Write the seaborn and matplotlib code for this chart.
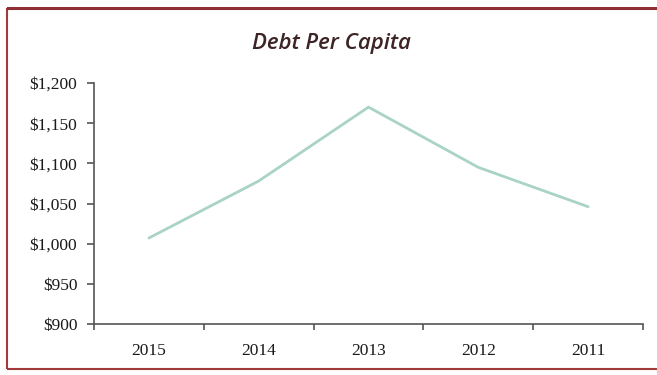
import matplotlib
matplotlib.use("Agg")
import matplotlib.pyplot as plt
import seaborn as sns
import pandas as pd
from matplotlib.patches import Rectangle
from matplotlib.ticker import FuncFormatter, FixedLocator

years = ["2015", "2014", "2013", "2012", "2011"]
debt = [1007, 1078, 1170, 1095, 1046]
y_ticks = [900, 950, 1000, 1050, 1100, 1150, 1200]

df = pd.DataFrame({"year": years, "debt": debt})

sns.set_style("white")
plt.rcParams["font.family"] = ["Liberation Serif", "DejaVu Serif"]

fig = plt.figure(figsize=(6.57, 3.75), dpi=100)
ax = fig.add_axes([94/657, 1-324/375, (643-94)/657, (324-83)/375])

sns.lineplot(data=df, x="year", y="debt", ax=ax, color="#a9d3c6", linewidth=2.0, sort=False)

ax.set_xlim(-0.5, len(years) - 0.5)
ax.set_ylim(900, 1200)
ax.set_yticks(y_ticks)
ax.yaxis.set_major_formatter(FuncFormatter(lambda v, p: f"${v:,.0f}"))
ax.xaxis.set_minor_locator(FixedLocator([i - 0.5 for i in range(len(years) + 1)]))
ax.tick_params(axis="x", which="major", bottom=True, length=0, pad=14, labelsize=12.5, colors="#1a1a1a")
ax.tick_params(axis="x", which="minor", bottom=True, length=4, width=1.2, direction="out", color="#555555")
ax.tick_params(axis="y", which="major", left=True, length=5, width=1.2, direction="out", color="#555555",
               labelsize=12.5, labelcolor="#1a1a1a", pad=7)
ax.set_xlabel("")
ax.set_ylabel("")
for s in ["top", "right"]:
    ax.spines[s].set_visible(False)
for s in ["left", "bottom"]:
    ax.spines[s].set_color("#555555")
    ax.spines[s].set_linewidth(1.2)

fig.text(0.505, 1-44/375, "Debt Per Capita", ha="center", va="center",
         fontsize=16, style="italic", fontweight="semibold", color="#3d2426", family=["Open Sans", "DejaVu Sans"])

# frame
fig.patches.append(Rectangle((7/657, 1-369/375), 1.1, (369-9)/375, transform=fig.transFigure,
                             fill=False, edgecolor="#a33a3a", linewidth=1.5))
fig.patches.append(Rectangle((7/657, 1-10/375), 1.1, 2.5/375, transform=fig.transFigure,
                             facecolor="#8e2f33", edgecolor="none"))

fig.savefig("out.png", dpi=100)
